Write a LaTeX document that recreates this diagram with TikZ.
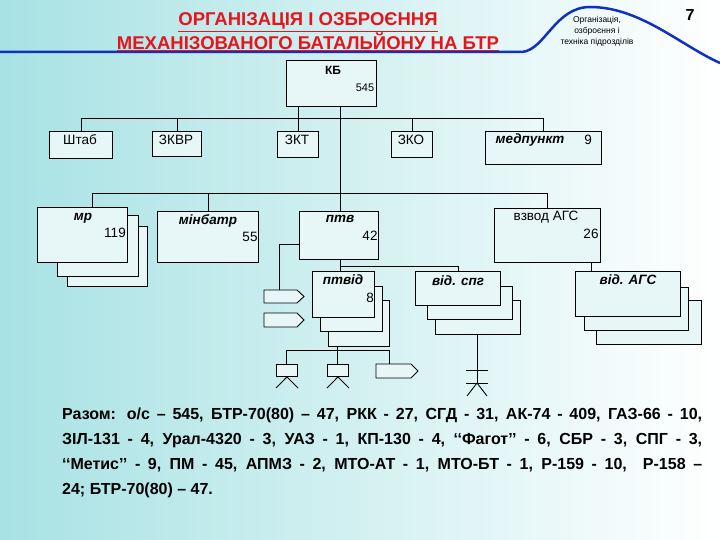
\documentclass[tikz,border=0pt]{standalone}
\usepackage{fontspec}
\setmainfont{Liberation Sans}
\definecolor{bgc}{HTML}{A8E2E4}
\definecolor{titlered}{HTML}{E8141C}
\definecolor{curveblue}{HTML}{1030C0}
\tikzset{
  box/.style={draw,line width=0.9pt,fill=white!72!bgc,anchor=north west,inner sep=0pt},
  lbl/.style={font=\fontsize{13.5}{14}\selectfont,inner sep=0pt},
  blbl/.style={font=\fontsize{13.5}{14}\selectfont\bfseries\itshape,inner sep=0pt},
  wire/.style={line width=0.9pt},
  sarrow/.style={draw,line width=0.9pt,fill=white!72!bgc}
}
\newcommand\bx[5]{\node[box,minimum width={(#4-#2)*1pt},minimum height={(#5-#3)*1pt}] (#1) at (#2,#3) {};}
\begin{document}
\begin{tikzpicture}[x=1pt,y=-1pt]
\useasboundingbox (0,0) rectangle (720,540);
\shade[left color=bgc,right color=white] (0,0) rectangle (720,540);
% header
\draw[curveblue,line width=2.5pt] (0,52) -- (522,52) .. controls (545,50) and (555,7) .. (590,7) .. controls (640,7) and (680,45) .. (720,63);
\node[font=\fontsize{18.5}{20}\selectfont\bfseries,text=titlered,align=center] (title) at (308,32) {\underline{ОРГАНІЗАЦІЯ І ОЗБРОЄННЯ}\\[0pt]\underline{МЕХАНІЗОВАНОГО БАТАЛЬЙОНУ НА БТР}};
\node[font=\fontsize{8.5}{11}\selectfont,align=center] (sub) at (597,31) {Організація,\\озброєння і\\техніка підрозділів};
\node[font=\fontsize{16}{18}\selectfont\bfseries] (pg) at (690,15) {7};
% KB
\bx{kb}{286}{60}{376}{106}
\node[lbl,font=\fontsize{12}{14}\selectfont\bfseries] (kbl) at (333,70) {КБ};
\node[lbl,font=\fontsize{11}{13}\selectfont] (kbn) at (365,88) {545};
% first row
\bx{shtab}{49}{131}{112}{158}
\bx{zkvr}{152}{131}{201}{156}
\bx{zkt}{277}{131}{318}{157}
\bx{zko}{391}{131}{432}{157}
\bx{med}{485}{131}{601}{164}
\node[lbl] at (80,140) {Штаб};
\node[lbl] at (176,140) {ЗКВР};
\node[lbl] at (297,140) {ЗКТ};
\node[lbl] at (411,140) {ЗКО};
\node[blbl] at (530,140) {медпункт};
\node[lbl] at (588,140) {9};
\coordinate (bus1) at (80,118);
\draw[wire] (shtab.north) -- (shtab.north |- bus1) -- (bus1 -| med.north) -- (med.north);
\draw[wire] (zkvr.north) -- (zkvr.north |- bus1);
\draw[wire] (zko.north) -- (zko.north |- bus1);
\draw[wire] (zkt.north) -- (zkt.north |- kb.south);
% second row
\bx{mr3}{67}{226}{147}{286}
\bx{mr2}{57}{215}{138}{276}
\bx{mr}{37}{207}{127}{262}
\bx{minb}{157}{211}{258}{262}
\bx{ptv}{299}{211}{378}{259}
\bx{agsv}{494}{208}{600}{262}
\node[blbl] at (83,218) {мр};
\node[lbl] at (115,233) {119};
\node[blbl] at (208,221) {мінбатр};
\node[lbl] at (250,237) {55};
\node[blbl] at (340,219) {птв};
\node[lbl] at (370,236) {42};
\node[lbl] at (546,217) {взвод АГС};
\node[lbl] at (591,234) {26};
\coordinate (bus2) at (92,193);
\coordinate (trunk) at (340,106);
\draw[wire] (trunk) -- (trunk |- ptv.north);
\draw[wire] (92,207) -- (bus2) -- (bus2 -| agsv.north) -- (agsv.north);
\draw[wire] (minb.north) -- (minb.north |- bus2);
% ptv subunits
\bx{ptvd3}{328}{300}{389}{346}
\bx{ptvd2}{320}{286}{382}{331}
\bx{ptvd}{312}{271}{374}{317}
\bx{spg3}{435}{300}{520}{334}
\bx{spg2}{427}{286}{512}{319}
\bx{spg}{415}{271}{500}{305}
\bx{ags3}{596}{300}{701}{344}
\bx{ags2}{584}{287}{688}{330}
\bx{ags}{575}{271}{680}{316}
\node[blbl] (ptvdl) at (343,280) {птвід};
\node[lbl] at (370,298) {8};
\node[blbl] at (458,281) {від. спг};
\node[blbl] at (628,280) {від. АГС};
% bus under ptv
\coordinate (bus3) at (340,266);
\draw[wire] (ptv.south -| bus3) -- (bus3) -- (bus3 -| spg.north) -- (spg.north);
\draw[wire] (bus3) -- (bus3 |- ptvd.north);
\draw[wire] (591,262) -- (591,271);
% arrows left of ptv
\draw[sarrow] (264,290) -- (297,290) -- (304,296.5) -- (297,303) -- (264,303) -- cycle;
\draw[sarrow] (264,313) -- (297,313) -- (304,320) -- (297,327) -- (264,327) -- cycle;
\draw[wire] (ptv.west |- 0,244) -- (279,244) -- (279,290);
% bus under ptvd
\draw[wire] (337,346) -- (337,364);
\draw[wire] (286,364) -- (286,350) -- (389,350) -- (389,364);
\bx{w1}{276}{364}{297}{376}
\bx{w2}{327}{364}{348}{376}
\draw[wire] (w1.south) -- (276,388) (w1.south) -- (298,388);
\draw[wire] (w2.south) -- (327,388) (w2.south) -- (349,388);
\draw[sarrow] (376,364) -- (411,364) -- (418,371) -- (411,378) -- (376,378) -- cycle;
% spg symbol
\draw[wire] (spg3.south -| 477,0) -- (477,383);
\draw[wire] (466,370) -- (488,370) (466,383) -- (488,383);
\draw[wire] (477,383) -- (467,396) (477,383) -- (487,396);
% summary text
\node[anchor=north west,text width=640pt,align=justify,font=\fontsize{16}{25}\selectfont\bfseries,inner sep=0pt] (sum) at (62,408)
{Разом: о/с – 545, БТР-70(80) – 47, РКК - 27, СГД - 31, АК-74 - 409, ГАЗ-66 - 10,\linebreak ЗІЛ-131 - 4, Урал-4320 - 3, УАЗ - 1, КП-130 - 4, ‘‘Фагот’’ - 6, СБР - 3, СПГ - 3,\linebreak ‘‘Метис’’ - 9, ПМ - 45, АПМЗ - 2, МТО-АТ - 1, МТО-БТ - 1, Р-159 - 10, \ Р-158 –\linebreak 24; БТР-70(80) – 47.};
\end{tikzpicture}
\end{document}
